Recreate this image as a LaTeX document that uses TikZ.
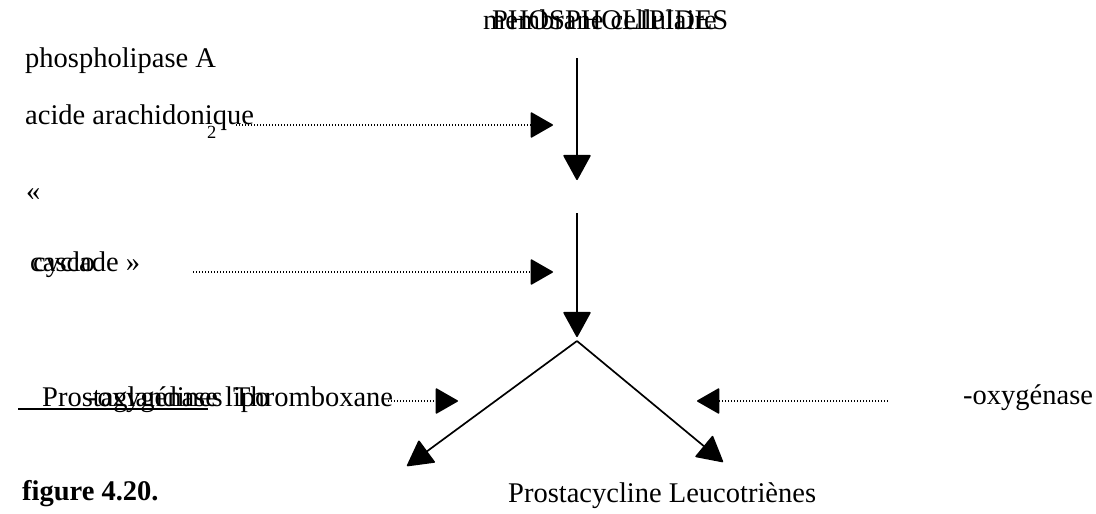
\documentclass[tikz,border=0pt]{standalone}
\usepackage{fontspec}
\setmainfont{Liberation Serif}
\usetikzlibrary{arrows.meta}
\tikzset{
  lbl/.style={anchor=base west, inner sep=0pt, font=\fontsize{28.5}{31}\selectfont},
  sublbl/.style={anchor=base west, inner sep=0pt, font=\fontsize{18.5}{20}\selectfont},
  solidarrow/.style={line width=1.7pt, -{Triangle[length=26pt,width=28pt,round]}},
  dotarrow/.style={line width=1.4pt, dash pattern=on 1.4pt off 1.6pt, -{Triangle[length=23pt,width=26pt,round]}},
  ruleline/.style={line width=2.6pt}
}
\begin{document}
\begin{tikzpicture}[x=1pt,y=-1pt]
\useasboundingbox (0,0) rectangle (1096,514);
% texts
\node[lbl] (memb) at (483,30) {membrane cellulaire};
\node[lbl] (phl) at (492,30) {PHOSPHOLIPIDES};
\node[lbl] (pla) at (25,67) {phospholipase A};
\node[lbl] (aa) at (25,124) {acide arachidonique};
\node[sublbl] (two) at (207,138) {2};
\node[lbl] (guil) at (26,200) {«};
\node[lbl] (casc) at (30,271) {cascade »};
\node[lbl] (cyc) at (33,271) {cyclo};
\node[lbl] (pg) at (42,406) {Prostaglandines};
\node[lbl] (tx) at (233,406) {Thromboxane};
\node[lbl] (oxl) at (88,406) {-oxygénase lipo};
\node[lbl] (oxr) at (963,404) {-oxygénase};
\node[lbl] (fig) at (22,500) {\textbf{figure 4.20.}};
\node[lbl] (pcl) at (508,502) {Prostacycline Leucotriènes};
% coordinates
\coordinate (v1s) at (577,58);
\coordinate (v1e) at (577,180);
\coordinate (v2s) at (577,213);
\coordinate (v2e) at (577,337);
\coordinate (apex) at (577,341);
\coordinate (lt) at (407,466);
\coordinate (rt) at (723,462);
\coordinate (d1s) at (236,125);
\coordinate (d1e) at (553,125);
\coordinate (d2s) at (193,272);
\coordinate (d2e) at (553,272);
\coordinate (d3s) at (388,401);
\coordinate (d3e) at (458,401);
\coordinate (d4s) at (888,401);
\coordinate (d4e) at (697,401);
\coordinate (u1) at (18,409);
\coordinate (u2) at (208,409);
% connectors
\draw[solidarrow] (v1s) -- (v1e);
\draw[solidarrow] (v2s) -- (v2e);
\draw[solidarrow] (apex) -- (lt);
\draw[solidarrow] (apex) -- (rt);
\draw[dotarrow] (d1s) -- (d1e);
\draw[dotarrow] (d2s) -- (d2e);
\draw[dotarrow] (d3s) -- (d3e);
\draw[dotarrow] (d4s) -- (d4e);
\draw[ruleline] (u1) -- (u2);
\end{tikzpicture}
\end{document}
